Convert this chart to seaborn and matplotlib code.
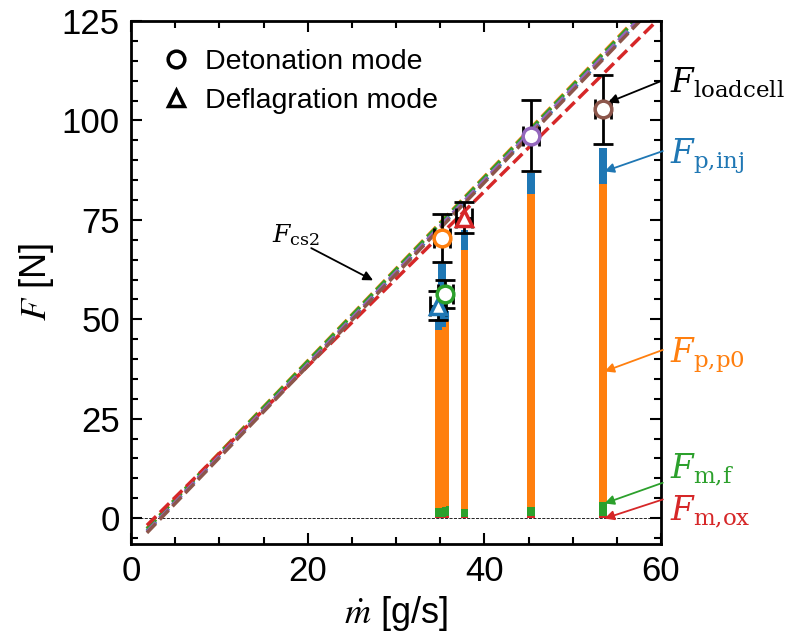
import numpy as np
import pandas as pd
import seaborn as sns
import matplotlib.pyplot as plt
from matplotlib.lines import Line2D
from matplotlib.ticker import MultipleLocator

# six test cases (tab10 colours), x = mass flow rate [g/s]
cases = ['c1', 'c2', 'c3', 'c4', 'c5', 'c6']
colors = ['#1f77b4', '#ff7f0e', '#2ca02c', '#d62728', '#9467bd', '#8c564b']
markers = ['^', 'o', 'o', '^', 'o', 'o']

# load cell measurements
pt_x = [34.8, 35.2, 35.6, 37.7, 45.3, 53.4]
pt_y = [53.4, 70.4, 56.4, 75.5, 96.2, 102.8]
pt_yerr = [3.7, 6.0, 3.5, 3.9, 9.0, 8.7]
pt_xerr = [0.9, 0.9, 0.9, 0.9, 0.9, 0.9]

# stacked force components
bar_x = [34.8, 35.2, 35.6, 37.75, 45.3, 53.45]
F_m_ox = [0.4, 0.4, 0.5, 0.4, 0.5, 0.5]
F_m_f = [2.2, 2.4, 2.6, 2.0, 2.3, 3.6]
F_p_p0 = [44.8, 45.2, 46.4, 65.0, 78.6, 79.8]
F_p_inj = [2.6, 16.0, 2.5, 5.1, 5.4, 9.2]

# F_cs2 lines (end points)
line_x = [1.8, 60.0]
line_y = {
    'c1': [-3.2, 130.8],
    'c2': [-2.6, 132.2],
    'c3': [-2.7, 131.9],
    'c4': [-1.8, 126.1],
    'c5': [-3.4, 131.3],
    'c6': [-3.7, 130.5],
}

sns.set_style('ticks')
plt.rcParams['font.family'] = ['Liberation Sans', 'DejaVu Sans']
plt.rcParams['mathtext.fontset'] = 'stix'
plt.rcParams['text.color'] = 'black'
plt.rcParams['axes.labelcolor'] = 'black'
plt.rcParams['xtick.color'] = 'black'
plt.rcParams['ytick.color'] = 'black'
plt.rcParams['axes.edgecolor'] = 'black'

fig = plt.figure(figsize=(7.97, 6.37), dpi=100)
ax = fig.add_axes([0.1644, 0.146, 0.665, 0.821])

# bars
bx = np.array(bar_x)
b0 = np.zeros(len(bx))
for vals, col in [(F_m_ox, colors[3]), (F_m_f, colors[2]),
                  (F_p_p0, colors[1]), (F_p_inj, colors[0])]:
    ax.bar(bx, vals, bottom=b0, width=0.85, color=col, linewidth=0, zorder=1)
    b0 = b0 + np.array(vals)

# lines
rows = []
for c in cases:
    for xv, yv in zip(line_x, line_y[c]):
        rows.append({'case': c, 'mdot': xv, 'F': yv})
df_lines = pd.DataFrame(rows)
sns.lineplot(data=df_lines, x='mdot', y='F', hue='case', hue_order=cases,
             palette=colors, linestyle='--', lw=2.5, legend=False, ax=ax,
             zorder=2)

ax.axhline(0, color='k', ls='--', lw=0.6, zorder=1.5)

# measured points
for i in range(len(pt_x)):
    ax.errorbar(pt_x[i], pt_y[i], yerr=pt_yerr[i], xerr=pt_xerr[i],
                fmt='none', ecolor='k', elinewidth=2, capsize=7, capthick=2,
                zorder=3)
for i in range(len(pt_x)):
    ax.plot(pt_x[i], pt_y[i], marker=markers[i], ms=12, mfc='white',
            mec=colors[i], mew=2.5, ls='none', zorder=4)

ax.set_xlim(0, 60)
ax.set_ylim(-6.5, 125)
ax.xaxis.set_major_locator(MultipleLocator(20))
ax.xaxis.set_minor_locator(MultipleLocator(5))
ax.yaxis.set_major_locator(MultipleLocator(25))
ax.yaxis.set_minor_locator(MultipleLocator(5))
ax.tick_params(which='both', direction='in', top=True, right=True,
               width=1.5, labelsize=25, pad=8)
ax.tick_params(which='major', length=8)
ax.tick_params(which='minor', length=5)
for s in ax.spines.values():
    s.set_linewidth(2)
ax.set_xlabel(r'$\dot{m}$ [g/s]', fontsize=26)
ax.set_ylabel(r'$F$ [N]', fontsize=26)

# legend
handles = [Line2D([], [], marker='o', ls='none', ms=12, mfc='white', mec='k', mew=2.5),
           Line2D([], [], marker='^', ls='none', ms=12, mfc='white', mec='k', mew=2.5)]
ax.legend(handles, ['Detonation mode', 'Deflagration mode'], loc='upper left',
          frameon=False, fontsize=20.5, handlelength=1.0, handletextpad=0.5,
          labelspacing=0.45, borderaxespad=0.5, bbox_to_anchor=(0.01, 0.995))

# annotations
arw = dict(arrowstyle='-|>', lw=1.3, shrinkA=0, shrinkB=0, mutation_scale=14)
ax.text(16.0, 71.3, r'$F_{\mathrm{cs2}}$', fontsize=18, va='center', ha='left',
        math_fontfamily='dejavuserif')
ax.annotate('', xy=(27.4, 59.8), xytext=(20.4, 67.9),
            arrowprops=dict(arw, color='k'))

labels = [r'$F_{\mathrm{loadcell}}$', r'$F_{\mathrm{p{,}inj}}$', r'$F_{\mathrm{p{,}p0}}$',
          r'$F_{\mathrm{m{,}f}}$', r'$F_{\mathrm{m{,}ox}}$']
label_col = ['k', colors[0], colors[1], colors[2], colors[3]]
label_y = [109.5, 91.0, 41.0, 12.0, 1.5]
arrow_from = [(60.0, 109.9), (60.2, 92.3), (60.2, 42.3), (60.2, 8.9), (60.2, 4.7)]
arrow_to = [(54.0, 104.5), (53.6, 87.2), (53.6, 36.9), (53.6, 3.7), (53.6, -0.1)]
for lab, col, ly, a0, a1 in zip(labels, label_col, label_y, arrow_from, arrow_to):
    ax.text(61.0, ly, lab, fontsize=23.5, color=col, va='center', ha='left',
            clip_on=False, math_fontfamily='dejavuserif')
    ax.annotate('', xy=a1, xytext=a0, arrowprops=dict(arw, color=col),
                annotation_clip=False)

fig.savefig('out.png', dpi=100)
